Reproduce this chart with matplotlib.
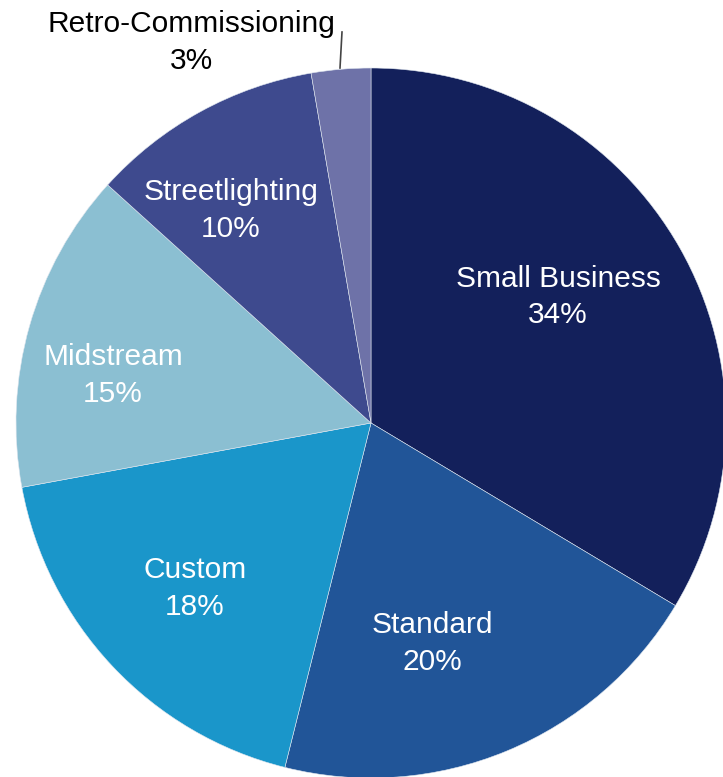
import matplotlib.pyplot as plt

# slices, clockwise from 12 o'clock (sizes)
categories = ["Small Business", "Standard", "Custom", "Midstream", "Streetlighting", "Retro-Commissioning"]
shares = [33.6, 20.3, 18.2, 14.6, 10.6, 2.7]
pct_labels = ["34%", "20%", "18%", "15%", "10%", "3%"]
colors = ["#13205B", "#215598", "#1A96CA", "#8BBFD2", "#3E4A8E", "#6E72A8"]

W, H = 723, 777
CX, CY, R = 371, 423, 355

fig = plt.figure(figsize=(W / 100, H / 100), dpi=100)
ax = fig.add_axes([0, 0, 1, 1])

ax.pie(shares, colors=colors, startangle=90, counterclock=False,
       center=(CX, H - CY), radius=R, frame=True,
       wedgeprops=dict(edgecolor="#dfe6ef", linewidth=0.4))
ax.set_xlim(0, W)
ax.set_ylim(0, H)
ax.axis("off")

# label positions in pixel coords (x centre, baseline of name, baseline of pct)
label_pos = [(558, 287, 323), (432, 633, 670), (195, 578, 615),
             (113, 365, 402), (231, 200, 237), (191, 32, 69)]

font = dict(family="Liberation Sans", fontsize=21.5, ha="center", va="baseline")
for name, pct, (x, y1, y2) in zip(categories, pct_labels, label_pos):
    c = "black" if name == "Retro-Commissioning" else "white"
    ax.text(x, H - y1, name, color=c, **font)
    ax.text(x, H - y2, pct, color=c, **font)

# leader line for the small slice
ax.plot([342, 340], [H - 32, H - 68], color="#444444", lw=1.2)

fig.savefig("out.png", dpi=100)
